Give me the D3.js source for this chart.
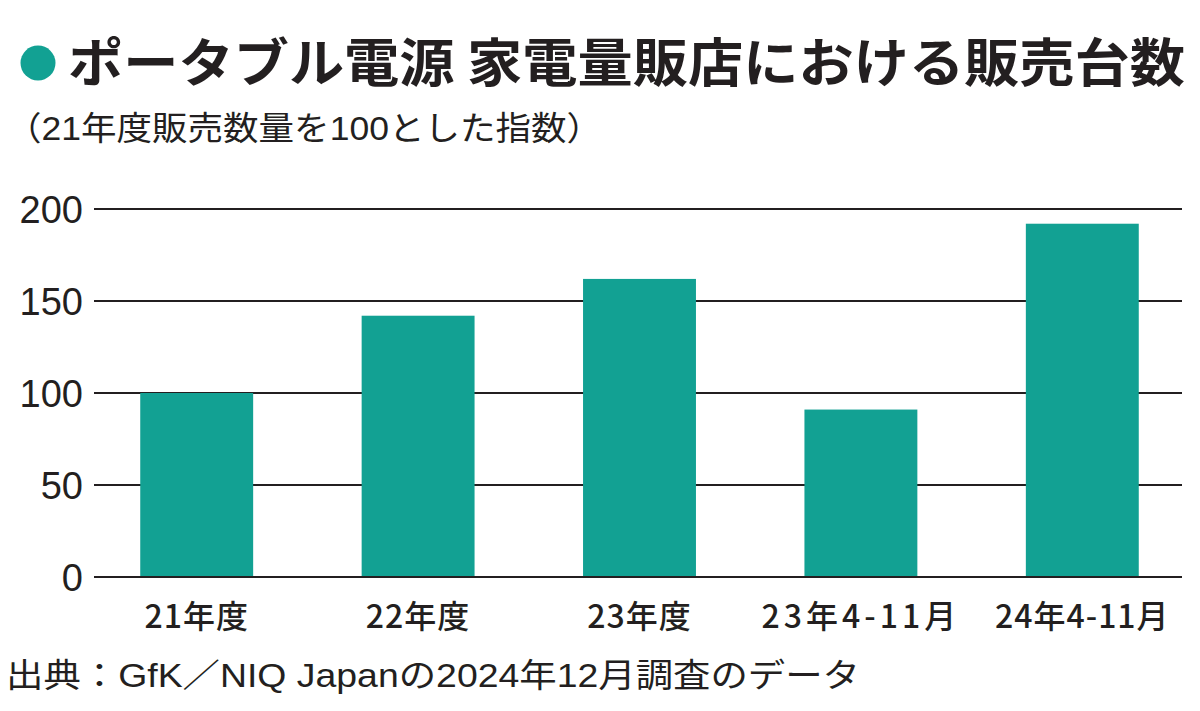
<!DOCTYPE html>
<html>
<head>
<meta charset="utf-8">
<script src="https://cdn.jsdelivr.net/npm/d3@7"></script>
<style>
  body { margin: 0; background: #fff; }
  text { fill: #231f20; }
</style>
</head>
<body>
<div class="container"></div>
<script>
const wd = 1200
const ht = 711

// data
const categories = ["21年度", "22年度", "23年度", "23年4-11月", "24年4-11月"]
const values = [100, 142, 162, 91, 192]
const yTicks = [0, 50, 100, 150, 200]

const titleText = "ポータブル電源 家電量販店における販売台数"
const subText = "（21年度販売数量を100とした指数）"
const sourceText = "出典：GfK／NIQ Japanの2024年12月調査のデータ"

const teal = "#12a193"
const ink = "#231f20"
const jp = "'Noto Sans CJK JP', 'Noto Sans', sans-serif"
// latin glyphs from a helvetica-like face, kana/kanji fall back to Noto
const mixed = "'Liberation Sans', 'Noto Sans CJK JP', sans-serif"

const svg = d3.select(".container")
.append("svg")
.attr("width", wd)
.attr("height", ht)

// title
svg.append("circle")
.attr("cx", 38).attr("cy", 63).attr("r", 17.5)
.attr("fill", teal)

svg.append("text")
.attr("x", 68).attr("y", 82)
.attr("textLength", 1117)
.attr("lengthAdjust", "spacingAndGlyphs")
.style("font-family", jp)
.style("font-weight", 700)
.style("font-size", "52px")
.text(titleText)

svg.append("text")
.attr("x", 6).attr("y", 140)
.attr("textLength", 596)
.attr("lengthAdjust", "spacingAndGlyphs")
.style("font-family", mixed)
.style("font-size", "33px")
.text(subText)

// scales
const x = d3.scaleBand()
.domain(categories)
.range([86, 1193])
.paddingInner(0.49)
.paddingOuter(0.245)

const y = d3.scaleLinear()
.domain([0, 200])
.range([577, 209])

// grid
const grid = svg.append("g")
grid.selectAll("line")
.data(yTicks)
.join("line")
.attr("x1", 94).attr("x2", 1182)
.attr("y1", d => y(d)).attr("y2", d => y(d))
.attr("stroke", ink)
.attr("stroke-width", 2)

// bars
svg.append("g").selectAll("rect")
.data(values)
.join("rect")
.attr("x", (d, i) => x(categories[i]))
.attr("width", x.bandwidth())
.attr("y", d => y(d))
.attr("height", d => y(0) - y(d))
.attr("fill", teal)

// baseline on top
svg.append("line")
.attr("x1", 94).attr("x2", 1182)
.attr("y1", y(0)).attr("y2", y(0))
.attr("stroke", ink)
.attr("stroke-width", 2)

// y axis
const yAxis = d3.axisLeft(y).tickValues(yTicks).tickSize(0).tickPadding(0)
svg.append("g")
.attr("transform", "translate(83,0)")
.call(yAxis)
.call(g => g.select(".domain").remove())
.selectAll("text")
.style("font-family", "'Liberation Sans', Arial, sans-serif")
.style("font-size", "38px")
.style("fill", ink)
.attr("dy", "0.36em")

// x axis
const xAxis = d3.axisBottom(x).tickSize(0).tickPadding(0)
svg.append("g")
.attr("transform", "translate(0,599)")
.call(xAxis)
.call(g => g.select(".domain").remove())
.selectAll("text")
.style("font-family", jp)
.style("font-weight", 500)
.style("font-size", "32px")
.style("letter-spacing", (d, i) => i == 3 ? "4px" : "1px")
.style("fill", ink)
.attr("dy", "0.9em")

// source
svg.append("text")
.attr("x", 6).attr("y", 687)
.attr("textLength", 854)
.attr("lengthAdjust", "spacingAndGlyphs")
.style("font-family", mixed)
.style("font-size", "33px")
.text(sourceText)
</script>
</body>
</html>
